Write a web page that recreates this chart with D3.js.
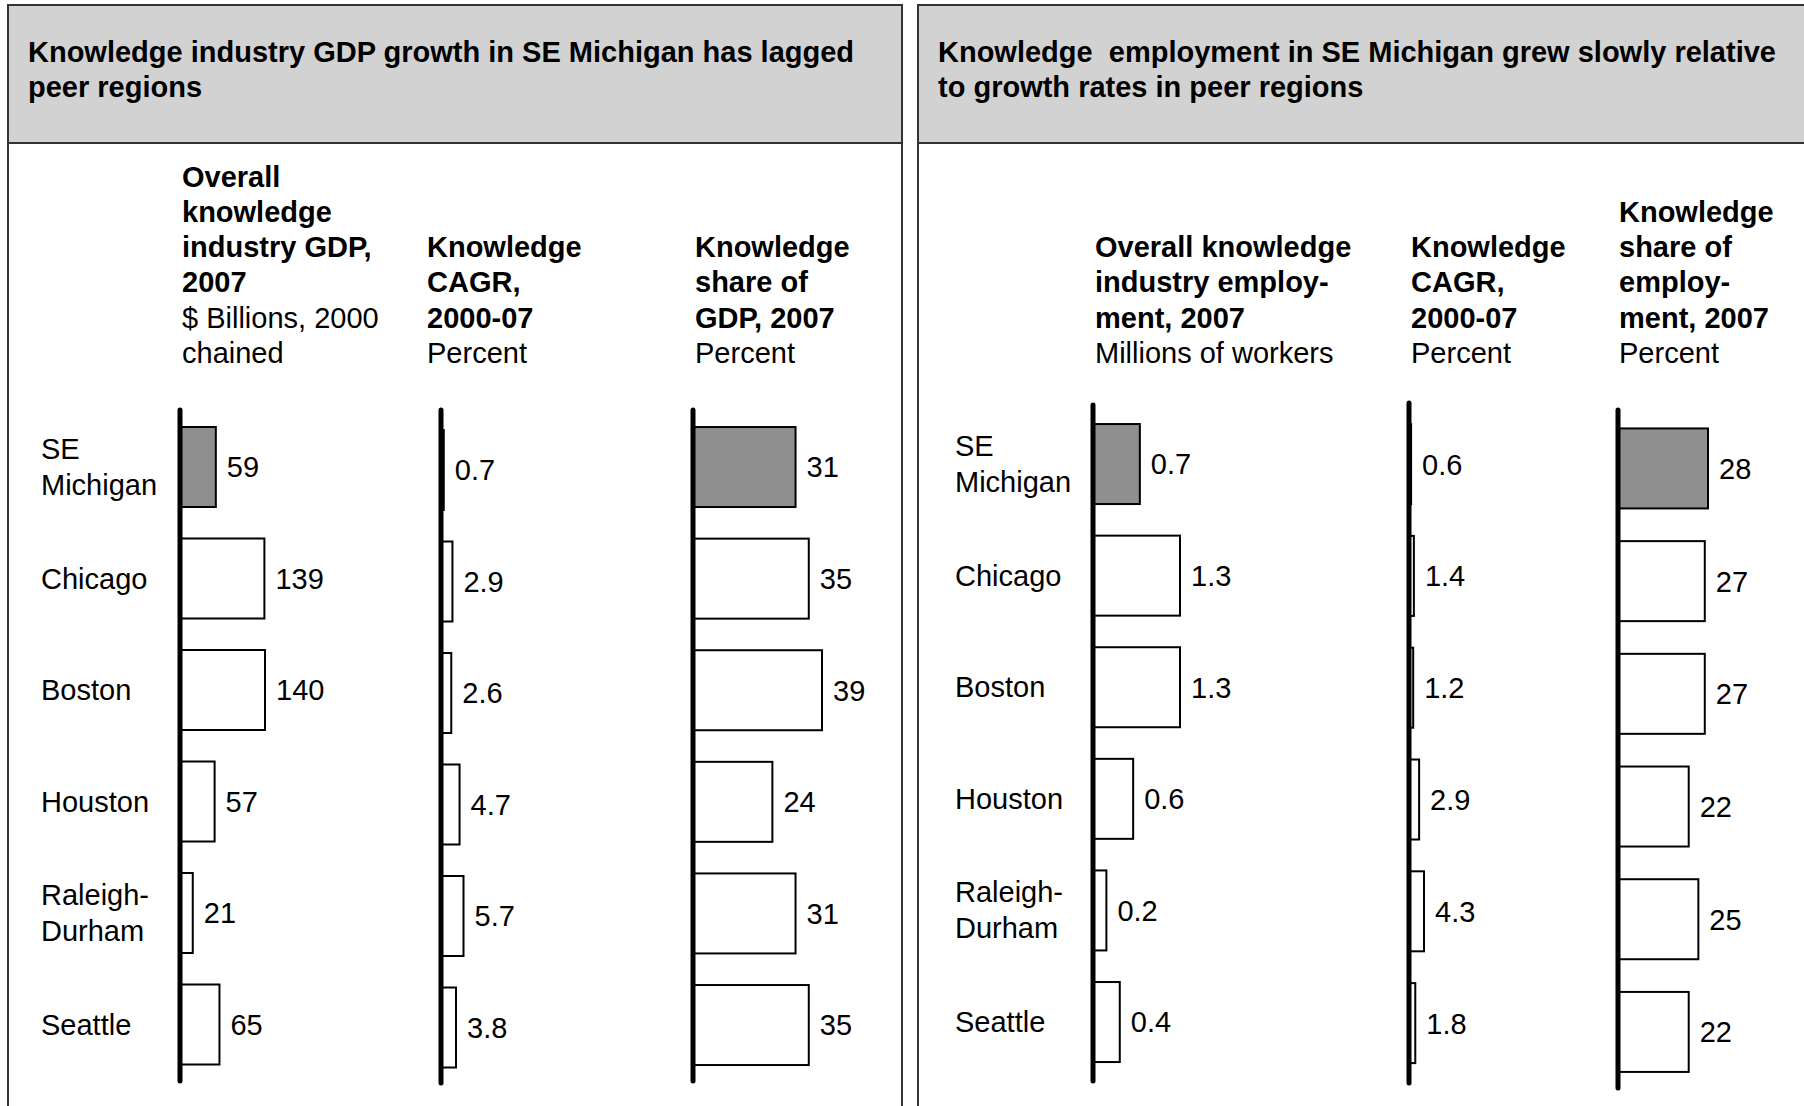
<!DOCTYPE html>
<html>
<head>
<meta charset="utf-8">
<script src="https://cdn.jsdelivr.net/npm/d3@7"></script>
<style>
  body { margin: 0; background: #fff; }
  svg { display: block; }
  text { font-family: "Liberation Sans", Arial, Helvetica, sans-serif; font-size: 29px; fill: #000; }
</style>
</head>
<body>
<svg width="1804" height="1106"></svg>
<script>
  // DATA
  var regions = ["SE Michigan", "Chicago", "Boston", "Houston", "Raleigh-Durham", "Seattle"];
  var regionLines = [["SE", "Michigan"], ["Chicago"], ["Boston"], ["Houston"], ["Raleigh-", "Durham"], ["Seattle"]];
  var highlight = "SE Michigan";

  var gdpTitle = ["Knowledge industry GDP growth in SE Michigan has lagged", "peer regions"];
  var empTitle = ["Knowledge  employment in SE Michigan grew slowly relative", "to growth rates in peer regions"];

  var gdp2007 = [59, 139, 140, 57, 21, 65];
  var gdpCagr = [0.7, 2.9, 2.6, 4.7, 5.7, 3.8];
  var gdpShare = [31, 35, 39, 24, 31, 35];
  var emp2007 = [0.7, 1.3, 1.3, 0.6, 0.2, 0.4];
  var empCagr = [0.6, 1.4, 1.2, 2.9, 4.3, 1.8];
  var empShare = [28, 27, 27, 22, 25, 22];

  // header lines: [bold lines], [regular lines]
  var gdp2007Head = [["Overall", "knowledge", "industry GDP,", "2007"], ["$ Billions, 2000", "chained"]];
  var gdpCagrHead = [["Knowledge", "CAGR,", "2000-07"], ["Percent"]];
  var gdpShareHead = [["Knowledge", "share of", "GDP, 2007"], ["Percent"]];
  var emp2007Head = [["Overall knowledge", "industry employ-", "ment, 2007"], ["Millions of workers"]];
  var empCagrHead = [["Knowledge", "CAGR,", "2000-07"], ["Percent"]];
  var empShareHead = [["Knowledge", "share of", "employ-", "ment, 2007"], ["Percent"]];

  // LAYOUT (pixels only, no values)
  var panels = [
    { x: 8, w: 894, title: gdpTitle, labelX: 41 },
    { x: 918, w: 1000, title: empTitle, labelX: 955 }
  ];

  var columns = [
    { panel: 0, values: gdp2007, head: gdp2007Head, fmt: "d", axisX: 180, headX: 182, top: 427, step: 111.5, len: 85, axisY: [410, 1081] },
    { panel: 0, values: gdpCagr, head: gdpCagrHead, fmt: ".1f", axisX: 441, headX: 427, top: 430, step: 111.5, len: 22.5, axisY: [410, 1083] },
    { panel: 0, values: gdpShare, head: gdpShareHead, fmt: "d", axisX: 693, headX: 695, top: 427, step: 111.6, len: 129, axisY: [410, 1081] },
    { panel: 1, values: emp2007, head: emp2007Head, fmt: ".1f", axisX: 1093, headX: 1095, top: 424, step: 111.6, len: 87, axisY: [405, 1081] },
    { panel: 1, values: empCagr, head: empCagrHead, fmt: ".1f", axisX: 1409, headX: 1411, top: 424, step: 111.8, len: 15, axisY: [403, 1083] },
    { panel: 1, values: empShare, head: empShareHead, fmt: "d", axisX: 1618, headX: 1619, top: 428, step: 112.7, len: 90, axisY: [410, 1088] }
  ];

  var barH = 80,
    headerBottom = 143,
    headBase = 363,
    lineH = 35.3;

  var svg = d3.select("svg");

  // PANELS
  var pg = svg.selectAll(".panel")
    .data(panels)
    .enter().append("g")
    .attr("class", "panel");

  pg.append("rect")
    .attr("x", function (d) { return d.x; })
    .attr("y", 5)
    .attr("width", function (d) { return d.w; })
    .attr("height", 1200)
    .attr("fill", "#fff")
    .attr("stroke", "#333")
    .attr("stroke-width", 2);

  pg.append("rect")
    .attr("x", function (d) { return d.x; })
    .attr("y", 5)
    .attr("width", function (d) { return d.w; })
    .attr("height", headerBottom - 5)
    .attr("fill", "#d2d2d2")
    .attr("stroke", "#333")
    .attr("stroke-width", 2);

  pg.each(function (p) {
    var t = d3.select(this).append("text")
      .attr("font-weight", "bold")
      .style("white-space", "pre");
    t.selectAll("tspan")
      .data(p.title)
      .enter().append("tspan")
      .attr("x", p.x + 20)
      .attr("y", function (d, i) { return 62 + i * lineH; })
      .text(function (d) { return d; });

    // region labels
    var y = d3.scaleBand().domain(regions)
      .range([427 - 15.75, 427 - 15.75 + 6 * 111.5])
      .paddingInner(0.2825).paddingOuter(0.14125);
    d3.select(this).selectAll(".region")
      .data(regions)
      .enter().append("text")
      .attr("class", "region")
      .each(function (r, i) {
        var lines = regionLines[i];
        var cy = y(r) + y.bandwidth() / 2 + (p.x > 100 ? -3 : 0);
        d3.select(this).selectAll("tspan")
          .data(lines)
          .enter().append("tspan")
          .attr("x", p.labelX)
          .attr("y", function (d, j) { return cy + 10 + (j - (lines.length - 1) / 2) * lineH; })
          .text(function (d) { return d; });
      });
  });

  // COLUMNS
  columns.forEach(function (c) {
    var g = svg.append("g");

    var y = d3.scaleBand().domain(regions)
      .range([c.top - c.step * 0.14125, c.top - c.step * 0.14125 + 6 * c.step])
      .paddingInner((c.step - barH) / c.step)
      .paddingOuter((c.step - barH) / c.step / 2);

    var x = d3.scaleLinear()
      .domain([0, d3.max(c.values)])
      .range([c.axisX, c.axisX + c.len]);

    var f = d3.format(c.fmt);

    // header
    var lines = c.head[0].map(function (t) { return { t: t, b: true }; })
      .concat(c.head[1].map(function (t) { return { t: t, b: false }; }));
    g.selectAll(".head")
      .data(lines)
      .enter().append("text")
      .attr("class", "head")
      .attr("x", c.headX)
      .attr("y", function (d, i) { return headBase - (lines.length - 1 - i) * lineH; })
      .attr("font-weight", function (d) { return d.b ? "bold" : "normal"; })
      .text(function (d) { return d.t; });

    // bars
    g.selectAll(".bar")
      .data(c.values)
      .enter().append("rect")
      .attr("class", "bar")
      .attr("x", x(0))
      .attr("y", function (d, i) { return y(regions[i]); })
      .attr("width", function (d) { return x(d) - x(0); })
      .attr("height", y.bandwidth())
      .attr("fill", function (d, i) { return regions[i] === highlight ? "#8f8f8f" : "#fff"; })
      .attr("stroke", "#000")
      .attr("stroke-width", 2);

    // value labels
    g.selectAll(".val")
      .data(c.values)
      .enter().append("text")
      .attr("class", "val")
      .attr("x", function (d) { return Math.max(x(d), x(0) + 2) + 11; })
      .attr("y", function (d, i) { return y(regions[i]) + y.bandwidth() / 2; })
      .attr("dy", "0.36em")
      .text(function (d) { return f(d); });

    // axis line
    g.append("line")
      .attr("x1", x(0)).attr("x2", x(0))
      .attr("y1", c.axisY[0]).attr("y2", c.axisY[1])
      .attr("stroke", "#000")
      .attr("stroke-width", 5)
      .attr("stroke-linecap", "round");
  });
</script>
</body>
</html>
